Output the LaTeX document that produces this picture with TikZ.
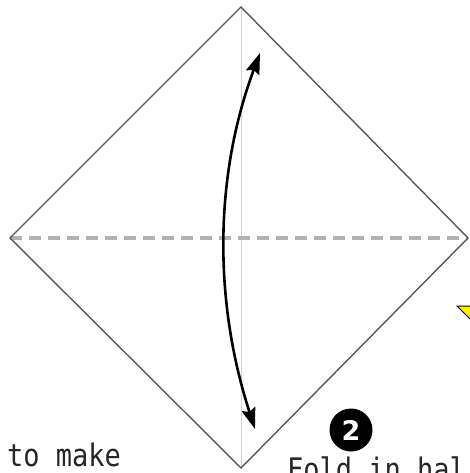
\documentclass[tikz,border=0pt]{standalone}
\usepackage{graphicx}
\usepackage{fontspec}
\newfontfamily\monofont{DejaVu Sans Mono}
\newfontfamily\boldsans{DejaVu Sans}
\usetikzlibrary{arrows.meta}
\tikzset{
  outline/.style={draw=black!65, line width=1.4pt, line join=miter},
  creasev/.style={draw=black!18, line width=1pt},
  valley/.style={draw=black!30, line width=3.3pt, dash pattern=on 12pt off 7pt},
  foldarrow/.style={draw=black, line width=2.6pt, {Stealth[length=21pt,width=14pt,inset=3pt]}-{Stealth[length=21pt,width=14pt,inset=3pt]}},
  caption/.style={inner sep=0pt, font=\monofont\fontsize{27}{30}\selectfont, text=black!85},
  stepnum/.style={circle, fill=black, minimum size=43pt, inner sep=0pt, text=white, font=\boldsans\bfseries\fontsize{27}{27}\selectfont},
  pointer/.style={fill=yellow, draw=black, line width=1pt, line join=miter}
}
\begin{document}
\begin{tikzpicture}[x=1pt, y=-1pt]
\useasboundingbox (0,0) rectangle (469,473);
\fill[white] (0,0) rectangle (469,473);
\coordinate (T) at (241,7);
\coordinate (R) at (468,238);
\coordinate (B) at (241,468);
\coordinate (L) at (10,238);
\draw[creasev] (T) -- (B);
\draw[valley] (L) -- (R);
\draw[outline] (T) -- (R) -- (B) -- (L) -- cycle;
\coordinate (up) at (260,53);
\coordinate (down) at (255,429);
\draw[foldarrow] (up) .. controls (214.7,174.3) and (213,299.7) .. (down);
\draw[pointer] (457,306) -- (490,306) -- (490,339) -- cycle;
\node[stepnum] (two) at (351,430) {2};
\node[caption, anchor=base west] (left) at (7,466) {\scalebox{1}[1.15]{to make}};
\node[caption, anchor=base west] (right) at (287,480) {\scalebox{1}[1.15]{Fold in hal}};
\end{tikzpicture}
\end{document}
